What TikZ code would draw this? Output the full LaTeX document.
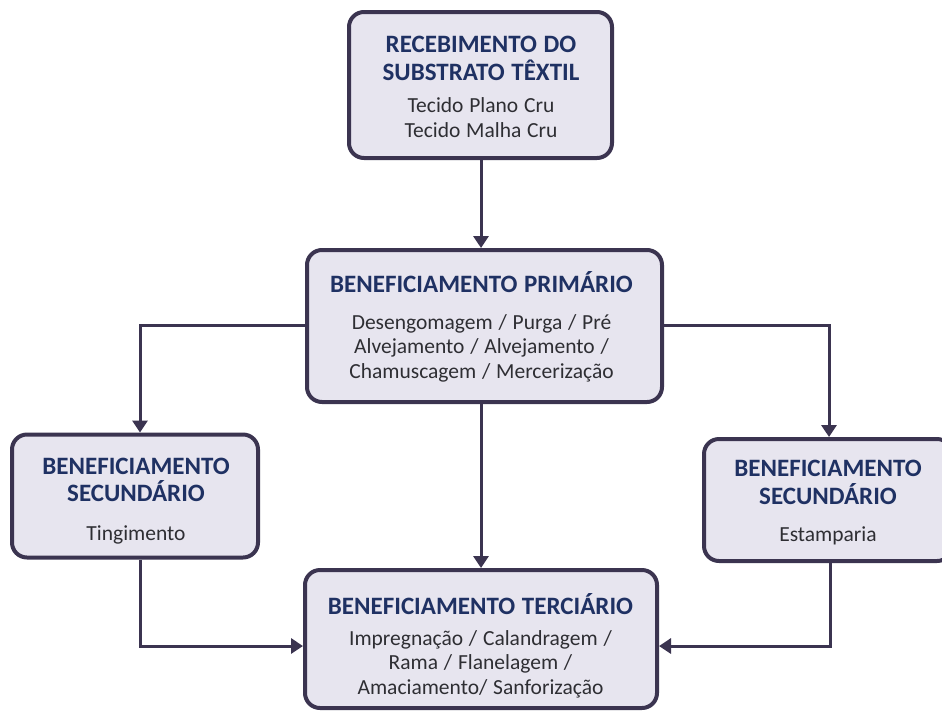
\documentclass[tikz,border=0pt]{standalone}
\usepackage{fontspec}
\setmainfont{Carlito}
\usetikzlibrary{arrows.meta}
\definecolor{boxfill}{HTML}{E7E5EF}
\definecolor{boxline}{HTML}{3B3450}
\definecolor{titlecol}{HTML}{1F3163}
\definecolor{bodycol}{HTML}{2E2E33}
\tikzset{
  stage/.style={draw=boxline, line width=4pt, fill=boxfill, rounded corners=15pt,
    inner sep=0pt},
  stagetext/.style={align=center, inner sep=0pt, text=bodycol, text width=#1},
  link/.style={draw=boxline, line width=3pt,
    -{Triangle[width=15pt,length=12pt]}},
}
% #1 title, #2 gap, #3 body
\newcommand{\stagetxt}[3]{%
  {\fontsize{25}{27.5}\selectfont\spaceskip=0.27em\bfseries\color{titlecol}#1\par}%
  \vspace{#2}%
  {\fontsize{21.5}{24.5}\selectfont\spaceskip=0.27em\mdseries\color{bodycol}#3\par}}
\begin{document}
\begin{tikzpicture}[x=1pt,y=-1pt]
\useasboundingbox (0,0) rectangle (942,713);
\clip (0,0) rectangle (942,713);
% boxes
\node[stage, minimum width=263pt, minimum height=146pt] (rec) at (480.5,85) {};
\node[stage, minimum width=355pt, minimum height=152pt] (pri) at (484.5,326) {};
\node[stage, minimum width=246pt, minimum height=123pt] (secl) at (135,496) {};
\node[stage, minimum width=248pt, minimum height=122pt, anchor=north west] (secr) at (702,437) {};
\node[stage, minimum width=352pt, minimum height=138pt] (ter) at (481,639) {};
% texts
\node[stagetext=255pt] (rec-t) at (481,87)
  {\stagetxt{RECEBIMENTO DO\\SUBSTRATO TÊXTIL}{8pt}{Tecido Plano Cru\\Tecido Malha Cru}};
\node[stagetext=345pt] (pri-t) at (481.5,327)
  {\stagetxt{BENEFICIAMENTO PRIMÁRIO}{12pt}{Desengomagem / Purga / Pré\\Alvejamento / Alvejamento /\\Chamuscagem / Mercerização}};
\node[stagetext=238pt] (secl-t) at (136,501)
  {\stagetxt{BENEFICIAMENTO\\SECUNDÁRIO}{14pt}{Tingimento}};
\node[stagetext=238pt] (secr-t) at (828,503)
  {\stagetxt{BENEFICIAMENTO\\SECUNDÁRIO}{13pt}{Estamparia}};
\node[stagetext=344pt] (ter-t) at (480.5,646)
  {\stagetxt{BENEFICIAMENTO TERCIÁRIO}{6pt}{Impregnação / Calandragem /\\Rama / Flanelagem /\\Amaciamento/ Sanforização}};
% connectors
\coordinate (lx) at (140,325);
\coordinate (rx) at (829,325);
\coordinate (lb) at (140,646);
\coordinate (rb) at (830,646);
\coordinate (mx) at (481,0);
\draw[link] (rec.south -| mx) -- (pri.north -| mx);
\draw[link] (pri.west |- lx) -- (lx) -- (lx |- secl.north);
\draw[link] (pri.east |- rx) -- (rx) -- (rx |- secr.north);
\draw[link] (pri.south -| mx) -- (ter.north -| mx);
\draw[link] (lx |- secl.south) -- (lb) -- (ter.west |- lb);
\draw[link] (rb |- secr.south) -- (rb) -- (ter.east |- rb);
\end{tikzpicture}
\end{document}
